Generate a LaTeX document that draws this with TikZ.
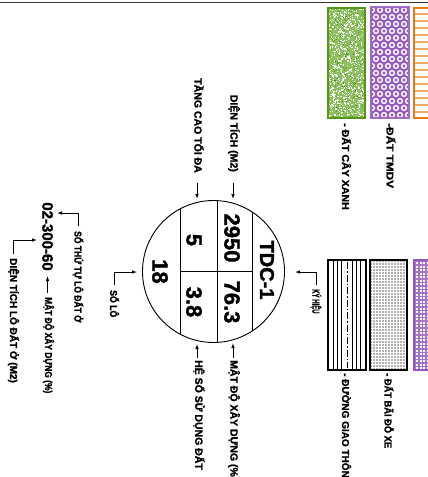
\documentclass[tikz,border=0pt]{standalone}
\usepackage{fontspec}
\setmainfont{Liberation Sans}[BoldFeatures={FakeBold=1.6}]
\usepackage{graphicx}
\usetikzlibrary{arrows.meta}
\definecolor{gborder}{RGB}{84,150,24}
\definecolor{gfill}{RGB}{140,192,95}
\definecolor{pur}{RGB}{150,90,190}
\definecolor{org}{RGB}{232,122,20}
\newcommand\sqz[2]{\scalebox{#1}[1]{#2}}
\begin{document}
\begin{tikzpicture}[x=1pt,y=-1pt,
 lab/.style={font=\bfseries\fontsize{10.5}{11}\selectfont, rotate=-90, inner sep=0pt},
 small/.style={font=\bfseries\fontsize{10}{11}\selectfont, rotate=-90, inner sep=0pt},
 big/.style={font=\bfseries\fontsize{22}{24}\selectfont, rotate=-90, inner sep=0pt},
 arr/.style={-{Latex[length=5pt,width=3.6pt]}, line width=0.9pt},
 ln/.style={line width=0.9pt}]
\useasboundingbox (0,0) rectangle (428,477);
\clip (0,0) rectangle (428,477);
\fill[white] (0,0) rectangle (428,477);
\draw[line width=1.6pt, black!80] (0,2.5) -- (428,2.5);

% ---- circle symbol
\node[circle, draw, line width=0.9pt, minimum size=142pt, inner sep=0pt] (C) at (213.5,271.5) {};
\begin{scope}
\clip (213.5,271.5) circle[radius=71];
\draw[ln] (180,190) -- (180,350);
\draw[ln] (217,190) -- (217,350);
\draw[ln] (252,190) -- (252,350);
\end{scope}
\draw[ln] (180,271.7) -- (252,271.7);

\node[big, font=\bfseries\fontsize{20}{22}\selectfont] (tdc) at (267,270) {TDC-1};
\node[big] (dt) at (232,238) {2950};
\node[big] (md) at (232,302) {76.3};
\node[big] (tc) at (194,240) {5};
\node[big] (hs) at (194,302) {3.8};
\node[big] (sl) at (160,271.5) {18};

% ---- top labels
\node[lab, anchor=east] (lTang) at (199,173) {TẦNG CAO TỐI ĐA};
\node[lab, anchor=east] (lDT) at (234,172) {DIỆN TÍCH (M2)};
\coordinate (aT1) at (197,183); \coordinate (aT2) at (197,199);
\coordinate (aD1) at (233,183); \coordinate (aD2) at (233,199);
\draw[arr] (aT1) -- (aT2);
\draw[arr] (aD1) -- (aD2);

% ---- bottom labels
\node[lab, anchor=west] (lHS) at (199,360) {HỆ SỐ SỬ DỤNG ĐẤT};
\node[lab, anchor=west] (lMD) at (234,360) {MẬT ĐỘ XÂY DỰNG (\%)};
\coordinate (bT1) at (197,358); \coordinate (bT2) at (197,344);
\coordinate (bD1) at (233,358); \coordinate (bD2) at (233,343);
\draw[arr] (bT1) -- (bT2);
\draw[arr] (bD1) -- (bD2);

% ---- right: KY HIEU
\node[small, anchor=west] (lKH) at (316,289) {\sqz{0.6}{KÝ HIỆU}};
\coordinate (kT) at (295,272);
\draw[arr] ([yshift=4pt]lKH.west) |- (kT);

% ---- left: SO LO
\node[small, anchor=west] (lSL) at (114.5,290) {\sqz{0.87}{SỐ LÔ}};
\coordinate (sT) at (137,272);
\draw[arr] ([yshift=5pt]lSL.west) |- (sT);

% ---- left code
\node[big, font=\bfseries\fontsize{15}{16}\selectfont] (code) at (47.5,236.5) {02-300-60};
\node[small, anchor=west] (lSTT) at (78,231) {\sqz{0.85}{SỐ THỨ TỰ LÔ ĐẤT Ở}};
\coordinate (sttT) at (57,213);
\draw[arr] ([yshift=5pt]lSTT.west) |- (sttT);
\node[small, anchor=west] (lMDL) at (48.5,297) {\sqz{0.84}{MẬT ĐỘ XÂY DỰNG (\%)}};
\coordinate (mdl1) at (47.5,293); \coordinate (mdl2) at (47.5,276);
\draw[arr] (mdl1) -- (mdl2);
\node[small, anchor=west] (lDTL) at (13.5,258) {DIỆN TÍCH LÔ ĐẤT Ở (M2)};
\coordinate (dtlT) at (37,240);
\draw[arr] ([yshift=4pt]lDTL.west) |- (dtlT);

% ---- legend: green
\fill[gfill] (328,8) rectangle (365,118);
\begin{scope}
\clip (328,8) rectangle (365,118);
\pgfmathsetseed{7}
\foreach \i in {1,...,750}{\pgfmathsetmacro\rx{328+37*rnd}\pgfmathsetmacro\ry{8+110*rnd}\fill[white] (\rx,\ry) rectangle ++(1.2,1.2);}
\foreach \i in {1,...,200}{\pgfmathsetmacro\rx{328+37*rnd}\pgfmathsetmacro\ry{8+110*rnd}\fill[gborder] (\rx,\ry) rectangle ++(1,1);}
\end{scope}
\draw[gborder, line width=2.2pt] (328,8) rectangle (365,118);
\node[small, anchor=west] (lgx) at (346.5,123) {\sqz{1.06}{- ĐẤT CÂY XANH}};

% ---- legend: purple hex rings
\fill[pur] (371,7) rectangle (409,118);
\begin{scope}
\clip (372,8) rectangle (408,117);
\foreach \r in {0,...,15} {
  \pgfmathsetmacro\off{mod(\r,2)*4}
  \foreach \c in {0,...,5} {\draw[white, line width=1.4pt] ({372+\off+8*\c},{10+7*\r}) circle[radius=2.4];}
}
\end{scope}
\draw[pur!90, line width=2pt] (371,7) rectangle (409,118);
\node[small, anchor=west] (ltm) at (391,123) {\sqz{1.18}{-ĐẤT TMDV}};

% ---- legend: orange
\begin{scope}
\clip (414,8) rectangle (445,118);
\foreach \r in {0,...,14} \draw[org!65, line width=1.6pt] (414,{14+7*\r}) -- (445,{14+7*\r});
\end{scope}
\draw[org, line width=2pt] (414,8) rectangle (445,118);

% ---- legend: road
\foreach \x in {333,337,341,352,356,360} \draw[line width=0.8pt] (\x,260) -- (\x,370);
\draw[line width=0.7pt, dash pattern=on 7pt off 2pt on 1.5pt off 2pt] (347,262) -- (347,368);
\draw[line width=2.2pt] (328,260) rectangle (366,370);
\node[small, anchor=west] (lgt) at (346.5,373) {- ĐƯỜNG GIAO THÔNG};

% ---- legend: parking
\fill[gray!60] (370,260) rectangle (407,370);
\foreach \x in {372,375,...,406} \draw[white, line width=0.45pt] (\x,260) -- (\x,370);
\foreach \y in {262,265,...,369} \draw[white, line width=0.45pt] (370,\y) -- (407,\y);
\draw[line width=2.2pt] (370,260) rectangle (407,370);
\node[small, anchor=west] (lbx) at (389,373) {\sqz{0.93}{- ĐẤT BÃI ĐỖ XE}};

% ---- legend: purple grid
\fill[pur!85] (414,260) rectangle (445,370);
\foreach \x in {416,419.5,...,431} \foreach \y in {262,265.5,...,368} {\fill[white] (\x,\y) rectangle ++(2,2);}
\draw[pur, line width=1.5pt] (414,260) rectangle (445,370);
\end{tikzpicture}
\end{document}
